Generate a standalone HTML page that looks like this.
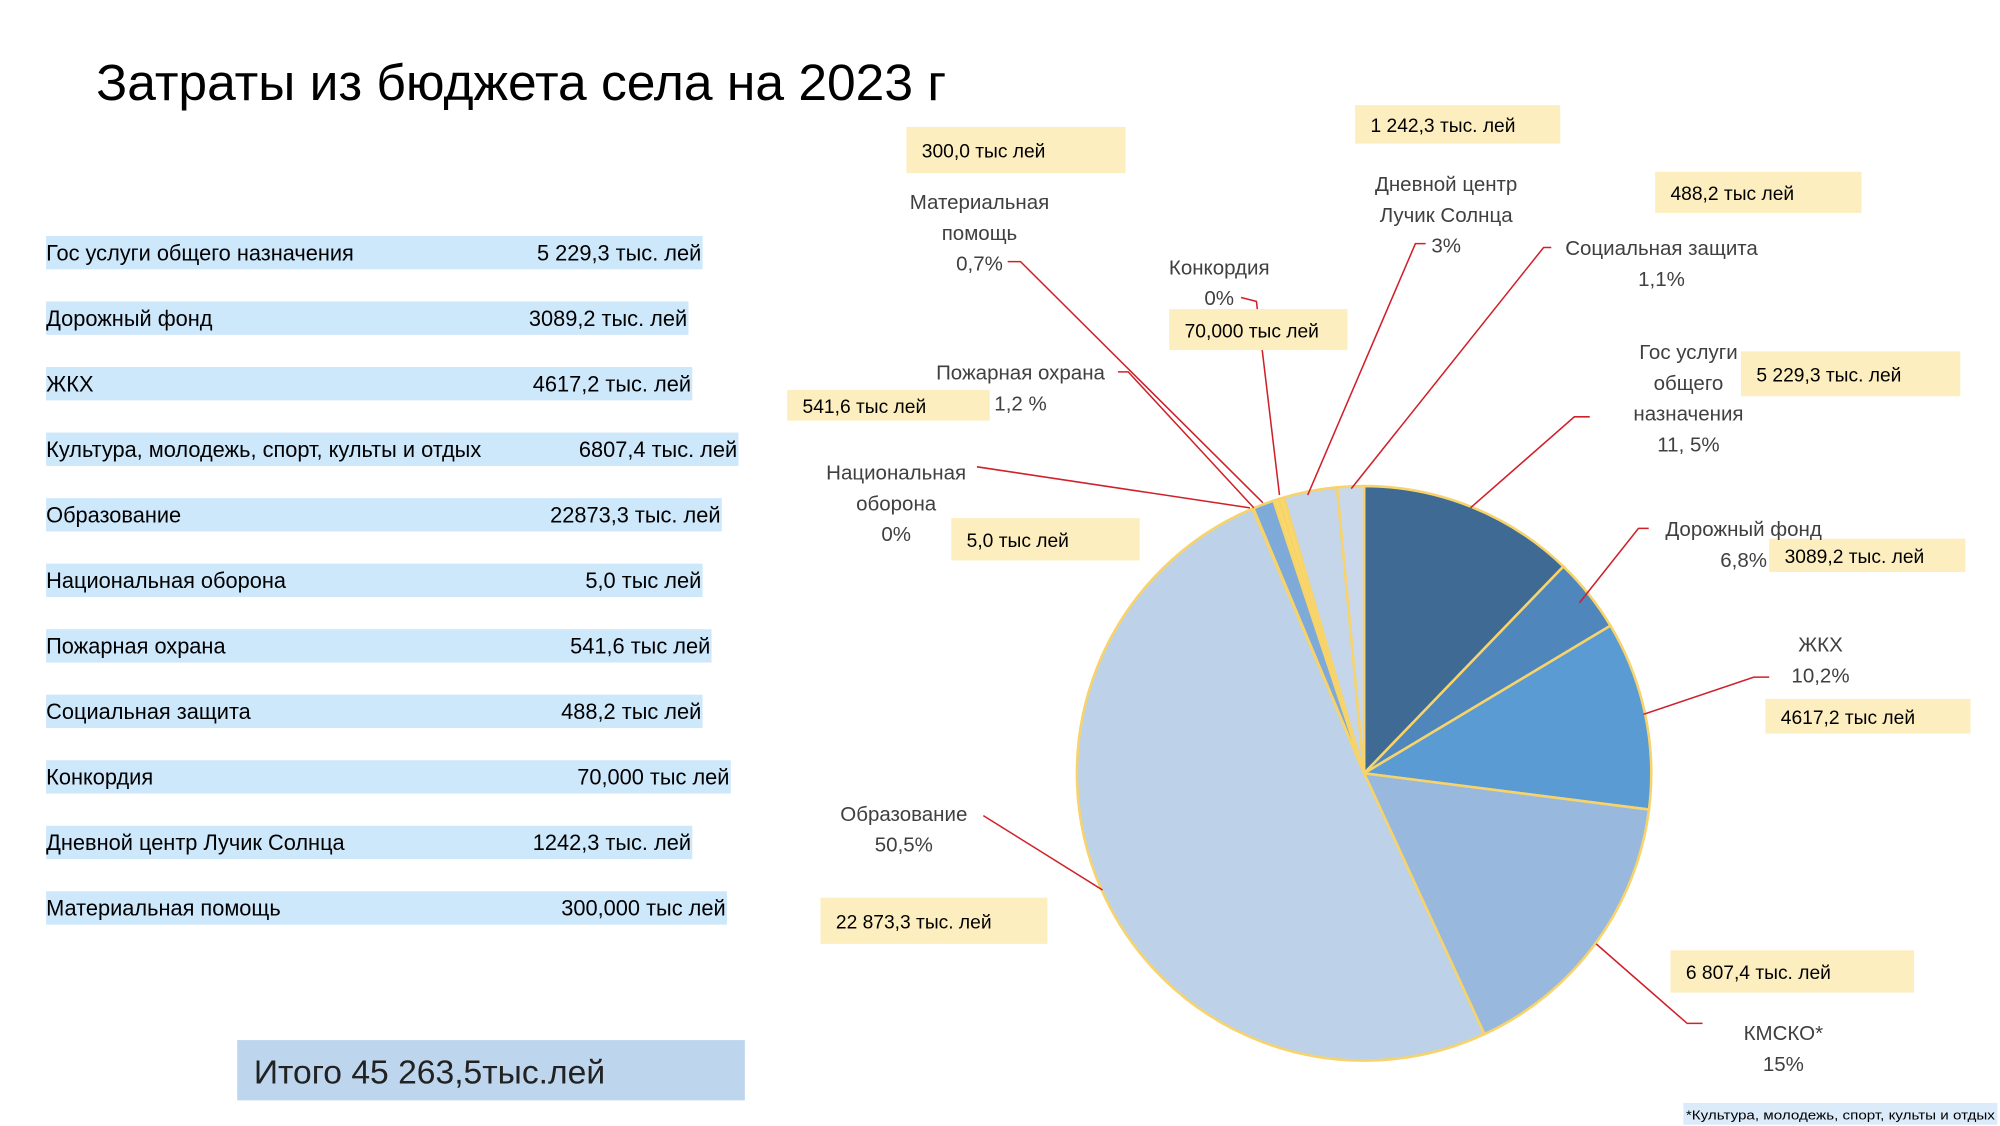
<!DOCTYPE html>
<html><head><meta charset="utf-8"><style>
html,body{margin:0;padding:0;background:#fff}
svg{display:block}
text{font-family:"Liberation Sans",sans-serif}
.t{font-size:17px;fill:#000}
.c{font-size:16px;fill:#404040;text-anchor:middle}
.v{font-size:15px;fill:#000}
.ld{stroke:#d0202a;stroke-width:1.2;fill:none}
</style></head><body>
<svg width="2000" height="1126" viewBox="0 0 1560 878" preserveAspectRatio="none">
<text x="75" y="78" font-size="40" textLength="663" lengthAdjust="spacingAndGlyphs">Затраты из бюджета села на 2023 г</text>
<g id="table"></g>
<rect x="185" y="811" width="396" height="47" fill="#bdd6ee"/>
<text x="198" y="845" font-size="26" fill="#222" textLength="274" lengthAdjust="spacingAndGlyphs">Итого 45 263,5тыс.лей</text>
<rect x="1313" y="860" width="245" height="17" fill="#dcebfa"/>
<text x="1315" y="873" font-size="10" textLength="241" lengthAdjust="spacingAndGlyphs">*Культура, молодежь, спорт, культы и отдых</text>
<g id="pie"></g>
<g id="ann"></g>
</svg>
<script>
const NS="http://www.w3.org/2000/svg";
function mk(tag,attrs,parent,txt){const e=document.createElementNS(NS,tag);for(const k in attrs)e.setAttribute(k,attrs[k]);if(txt!==undefined)e.textContent=txt;parent.appendChild(e);return e;}
// table data
const rowLabels=["Гос услуги общего назначения","Дорожный фонд","ЖКХ","Культура, молодежь, спорт, культы и отдых","Образование","Национальная оборона","Пожарная охрана","Социальная защита","Конкордия","Дневной центр Лучик Солнца","Материальная помощь"];
const rowValues=["5 229,3 тыс. лей","3089,2 тыс. лей","4617,2 тыс. лей","6807,4 тыс. лей","22873,3 тыс. лей","5,0 тыс лей","541,6 тыс лей","488,2 тыс лей","70,000 тыс лей","1242,3 тыс. лей","300,000 тыс лей"];
const rowRight=[548,537,540,576,563,548,555,548,570,540,567];
const tbl=document.getElementById('table');
rowLabels.forEach((l,i)=>{
  const y=197+i*51.1;
  const r=mk('rect',{x:36,y:y-13,width:rowRight[i]-36,height:26,fill:'#cde7fb'},tbl);
  
  
  const t=mk('text',{x:36,y:y+6,class:'t'},tbl,l);
  
  
  const v=mk('text',{x:rowRight[i]-1,y:y+6,class:'t','text-anchor':'end'},tbl,rowValues[i]);
  
  
});
// pie data (clockwise from top, as drawn)
const sliceNames=["Гос услуги","Дорожный фонд","ЖКХ","КМСКО","Образование","Национальная оборона","Пожарная охрана","Материальная помощь","Конкордия","Дневной центр","Социальная защита"];
const sliceValues=[12.2,4.2,10.6,16.1,50.5,0.05,1.2,0.3,0.3,3.0,1.5];
const sliceColors=["#3e6a94","#4f86bb","#5a9bd3","#98b8dd","#bdd1e8","#7eaad9","#7eaad9","#f9d96b","#f9d96b","#c5d5ea","#cad8eb"];
const cx=1064,cy=603,R=224;
const total=sliceValues.reduce((a,b)=>a+b,0);
function pt(a,r){return [cx+r*Math.sin(a),cy-r*Math.cos(a)];}
const pie=document.getElementById('pie');
let acc=0;
sliceValues.forEach((v,i)=>{
  const a0=acc/total*2*Math.PI;acc+=v;const a1=acc/total*2*Math.PI;
  const p0=pt(a0,R),p1=pt(a1,R);
  const large=(a1-a0)>Math.PI?1:0;
  const p=mk('path',{d:`M${cx},${cy}L${p0[0]},${p0[1]}A${R},${R} 0 ${large} 1 ${p1[0]},${p1[1]}Z`,fill:sliceColors[i],stroke:'#f7d36b','stroke-width':2,'stroke-linejoin':'round'},pie);
  
  
});
// annotations
const ann=document.getElementById('ann');
const leaders=[[786,204,796,204,985,392],[872,290,880,290,978,396],[968,232,980,235,998,386],[1112,190,1104,190,1020,386],[1210,193,1204,193,1054,381],[1240,325,1228,325,1147,396],[762,364,762,364,975,396],[1286,412,1278,412,1232,470],[1380,528,1368,528,1282,557],[767,636,767,636,860,694],[1328,798,1316,798,1245,736]];
leaders.forEach(l=>{
  const e=mk('polyline',{points:`${l[0]},${l[1]} ${l[2]},${l[3]} ${l[4]},${l[5]}`,class:'ld'},ann);
  
  
});
const boxes=[[707,99,171,36,"300,0 тыс лей"],[1057,82,160,30,"1 242,3  тыс. лей"],[1291,134,161,32,"488,2  тыс лей"],[912,241,139,32,"70,000 тыс лей"],[1358,274,171,35,"5 229,3 тыс. лей"],[614,304,158,24,"541,6 тыс лей"],[742,404,147,33,"5,0 тыс лей"],[1380,420,153,26,"3089,2 тыс. лей"],[1377,545,160,27,"4617,2 тыс лей"],[640,700,177,36,"22 873,3 тыс. лей"],[1303,741,190,33,"6 807,4 тыс. лей"]];
boxes.forEach(b=>{
  const r=mk('rect',{x:b[0],y:b[1],width:b[2],height:b[3],fill:'#fdeebf'},ann);
  
  
  const t=mk('text',{x:b[0]+12,y:b[1]+b[3]/2+6,class:'v'},ann,b[4]);
  
  
});
const cats=[[764,157,["Материальная","помощь","0,7%"]],[951,208,["Конкордия","0%"]],[1128,143,["Дневной центр","Лучик Солнца","3%"]],[1296,193,["Социальная защита","1,1%"]],[1317,274,["Гос услуги","общего","назначения","11, 5%"]],[796,290,["Пожарная охрана","1,2 %"]],[699,368,["Национальная","оборона","0%"]],[1360,412,["Дорожный фонд","6,8%"]],[1420,502,["ЖКХ","10,2%"]],[705,634,["Образование","50,5%"]],[1391,805,["КМСКО*","15%"]]];
cats.forEach(c=>{
  c[2].forEach((s,j)=>{
    const t=mk('text',{x:c[0],y:c[1]+j*24+6,class:'c'},ann,s);
    
    
  });
});
</script>
</body></html>
